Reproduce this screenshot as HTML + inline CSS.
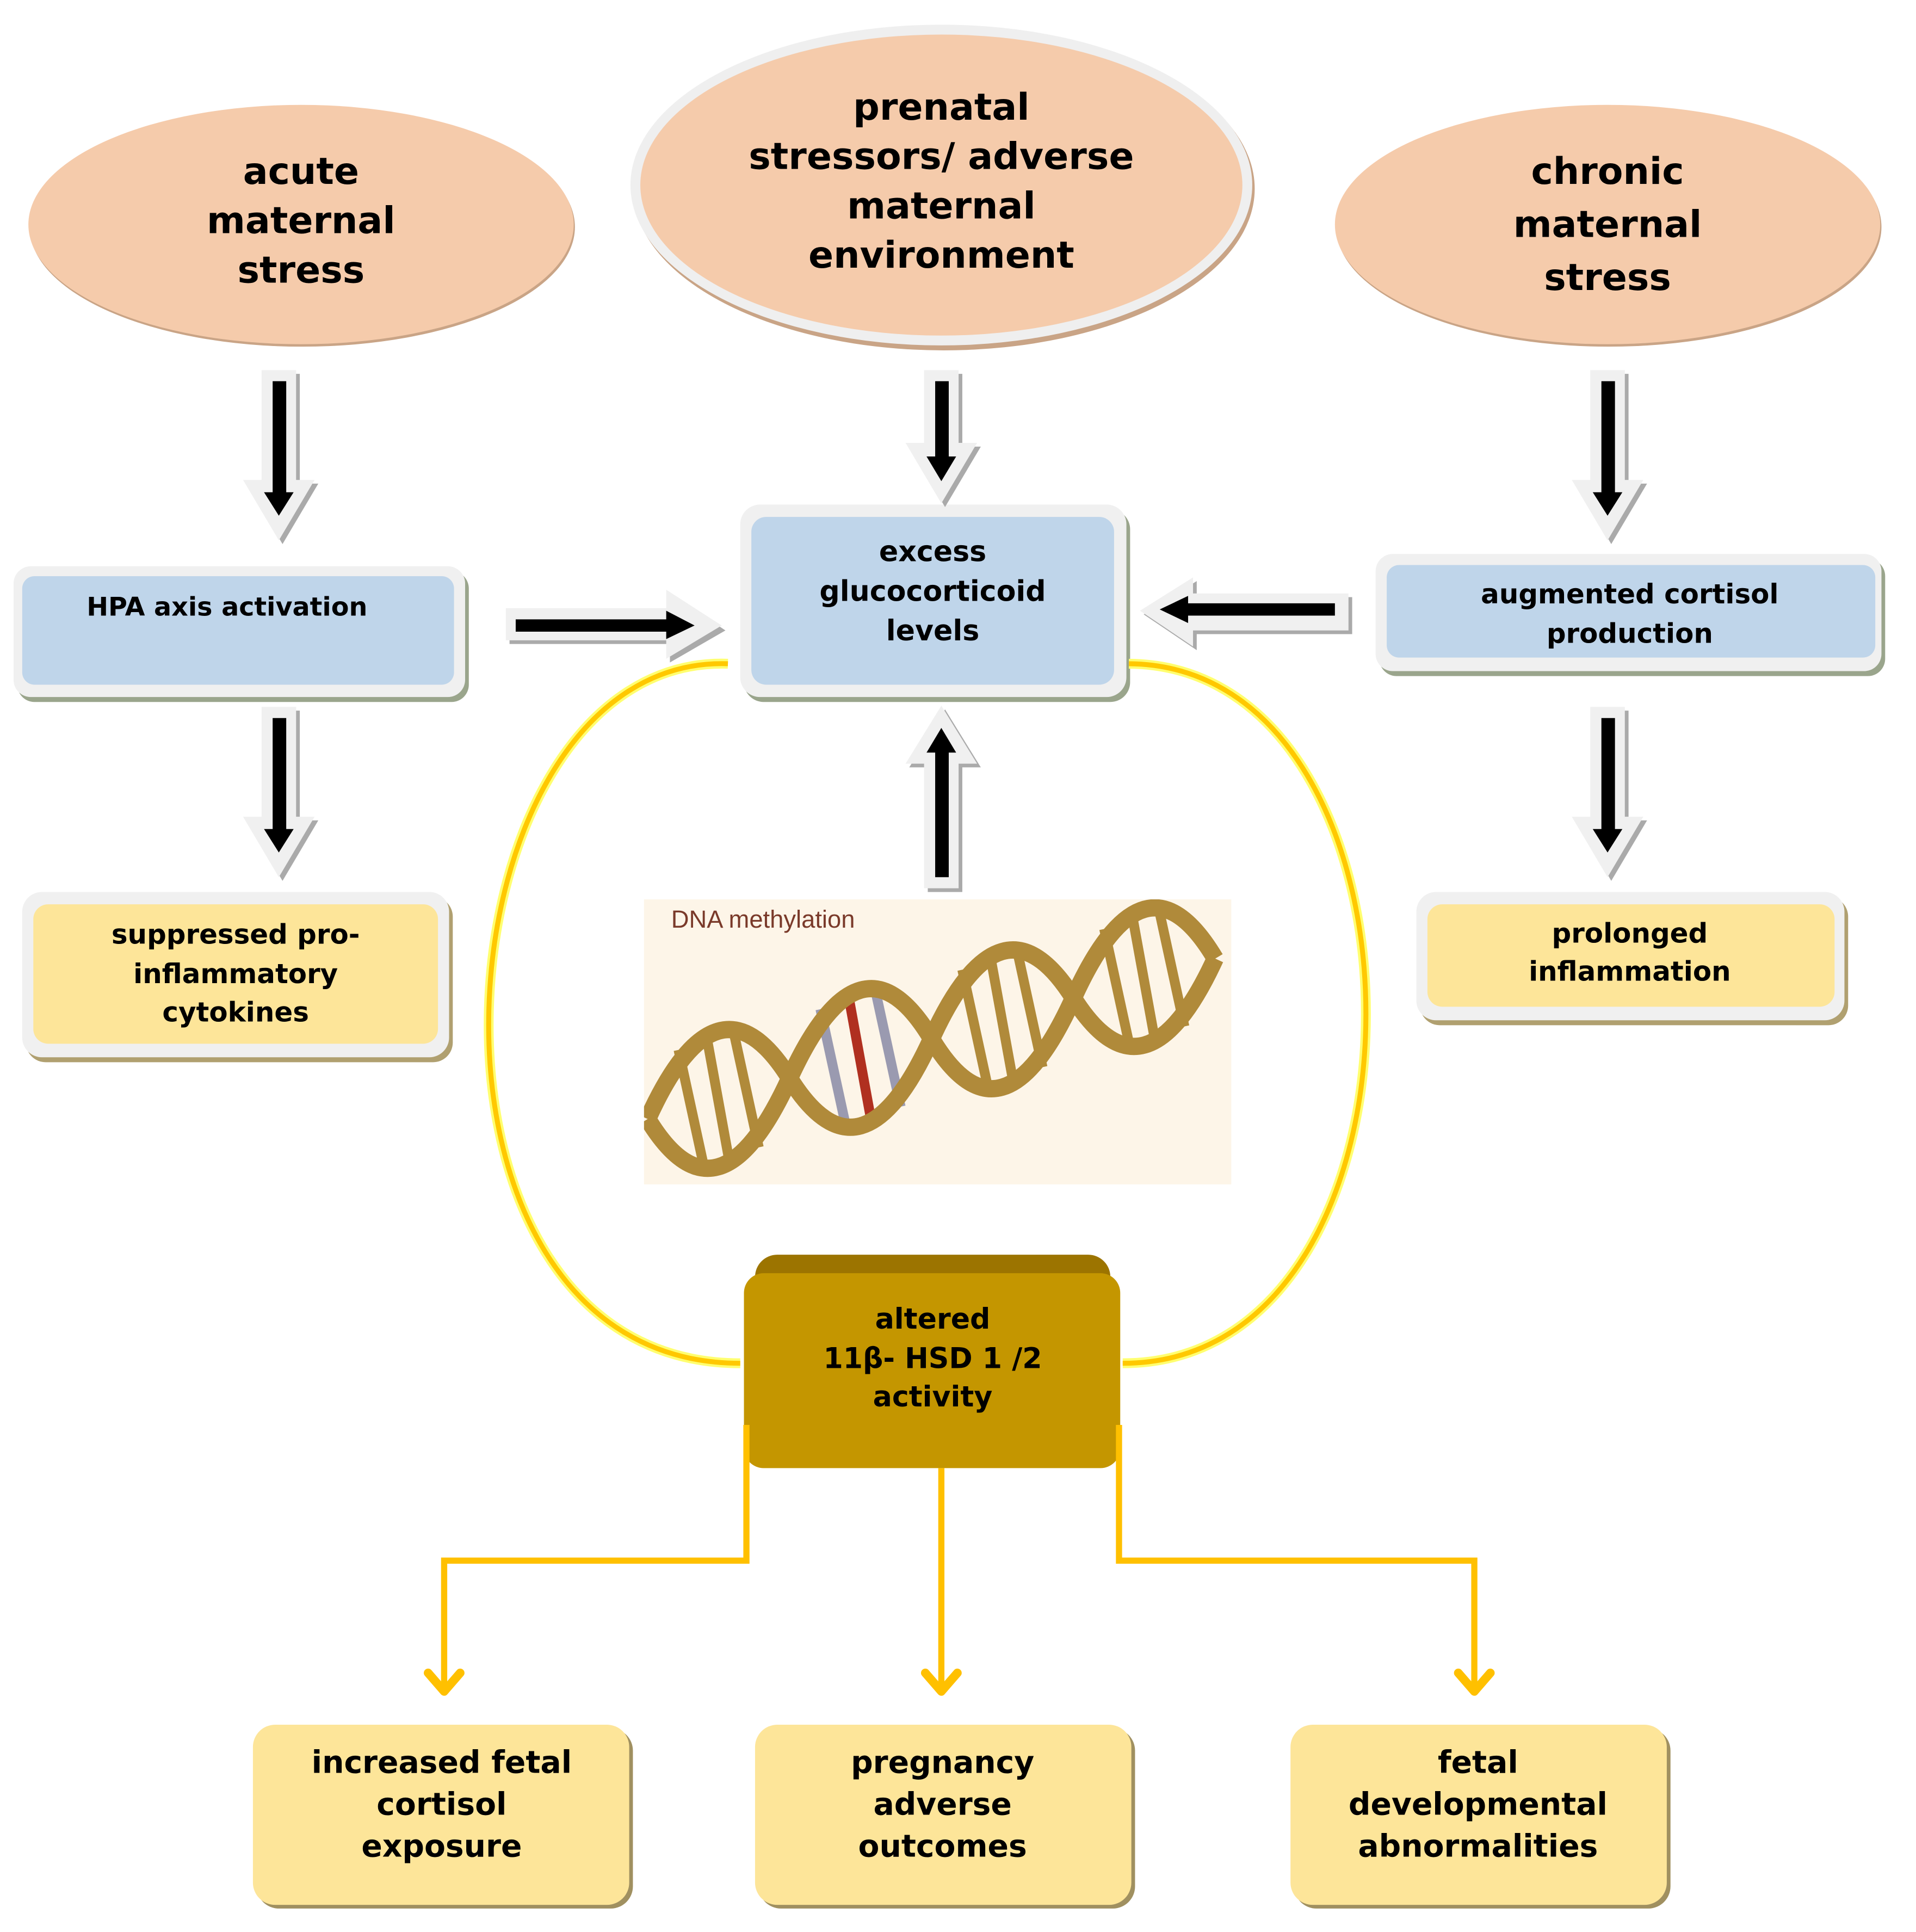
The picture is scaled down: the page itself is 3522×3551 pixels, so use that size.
<!DOCTYPE html>
<html><head><meta charset="utf-8"><style>
html,body{margin:0;padding:0;background:#fff}
svg{display:block}
text{font-family:"DejaVu Sans","Liberation Sans",sans-serif;font-weight:bold;fill:#000;text-anchor:middle}
</style></head><body>
<svg width="3522" height="3551" viewBox="0 0 1553 1566" preserveAspectRatio="none" xmlns="http://www.w3.org/2000/svg">
<defs><clipPath id="dc"><rect x="522" y="729" width="476" height="231"/></clipPath></defs>
<rect width="1553" height="1566" fill="#fff"/>
<!-- ellipses -->
<ellipse cx="245" cy="184" rx="221" ry="97" fill="#c9a486"/>
<ellipse cx="244" cy="182" rx="221" ry="97" fill="#f5cbab"/>
<ellipse cx="765" cy="153" rx="252" ry="131" fill="#c9a486"/>
<ellipse cx="763" cy="150" rx="252" ry="130" fill="#efefef"/>
<ellipse cx="763" cy="150" rx="244" ry="122" fill="#f5cbab"/>
<ellipse cx="1304" cy="184" rx="221" ry="97" fill="#c9a486"/>
<ellipse cx="1303" cy="182" rx="221" ry="97" fill="#f5cbab"/>
<g font-size="30">
<text x="244" y="149">acute</text><text x="244" y="189">maternal</text><text x="244" y="229">stress</text>
<text x="763" y="97">prenatal</text><text x="763" y="137">stressors/ adverse</text><text x="763" y="177">maternal</text><text x="763" y="217">environment</text>
<text x="1303" y="149">chronic</text><text x="1303" y="192">maternal</text><text x="1303" y="235">stress</text>
</g>
<!-- boxes -->
<g>
<rect x="14" y="463" width="366" height="106" rx="14" fill="#9aa58c"/>
<rect x="11" y="459" width="366" height="106" rx="14" fill="#f0f0f0"/>
<rect x="18" y="467" width="350" height="88" rx="10" fill="#bfd5ea"/>
<rect x="603" y="413" width="313" height="156" rx="16" fill="#9aa58c"/>
<rect x="600" y="409" width="313" height="156" rx="16" fill="#f0f0f0"/>
<rect x="609" y="419" width="294" height="136" rx="12" fill="#bfd5ea"/>
<rect x="1118" y="453" width="410" height="95" rx="14" fill="#9aa58c"/>
<rect x="1115" y="449" width="410" height="95" rx="14" fill="#f0f0f0"/>
<rect x="1124" y="458" width="396" height="75" rx="10" fill="#bfd5ea"/>
<rect x="21" y="727" width="346" height="134" rx="16" fill="#b0a070"/>
<rect x="18" y="723" width="346" height="134" rx="16" fill="#f0f0f0"/>
<rect x="27" y="733" width="328" height="113" rx="12" fill="#fde599"/>
<rect x="1151" y="727" width="347" height="104" rx="16" fill="#b0a070"/>
<rect x="1148" y="723" width="347" height="104" rx="16" fill="#f0f0f0"/>
<rect x="1157" y="733" width="330" height="83" rx="12" fill="#fde599"/>
</g>
<text x="184" y="499" font-size="21">HPA axis activation</text>
<g font-size="23"><text x="756" y="455">excess</text><text x="756" y="487">glucocorticoid</text><text x="756" y="519">levels</text></g>
<g font-size="22"><text x="1321" y="489">augmented cortisol</text><text x="1321" y="521">production</text></g>
<g font-size="22"><text x="191" y="765">suppressed pro-</text><text x="191" y="797">inflammatory</text><text x="191" y="828">cytokines</text></g>
<g font-size="22"><text x="1321" y="764">prolonged</text><text x="1321" y="795">inflammation</text></g>
<!-- block arrows -->
<g>
<polygon points="215,303 243,303 243,392 258,392 229,441 200,392 215,392" fill="#aaa"/>
<polygon points="212,300 240,300 240,389 255,389 226,438 197,389 212,389" fill="#f0f0f0"/>
<polygon points="221,309 232,309 232,399 238,399 226,418 214,399 221,399" fill="#000"/>

<polygon points="752,303 780,303 780,362 795,362 766,411 737,362 752,362" fill="#aaa"/>
<polygon points="749,300 777,300 777,359 792,359 763,408 734,359 749,359" fill="#f0f0f0"/>
<polygon points="758,309 769,309 769,370 775,370 763,390 751,370 758,370" fill="#000"/>

<polygon points="1292,303 1320,303 1320,392 1335,392 1306,441 1277,392 1292,392" fill="#aaa"/>
<polygon points="1289,300 1317,300 1317,389 1332,389 1303,438 1274,389 1289,389" fill="#f0f0f0"/>
<polygon points="1298,309 1309,309 1309,399 1315,399 1303,418 1291,399 1298,399" fill="#000"/>

<polygon points="215,576 243,576 243,665 258,665 229,714 200,665 215,665" fill="#aaa"/>
<polygon points="212,573 240,573 240,662 255,662 226,711 197,662 212,662" fill="#f0f0f0"/>
<polygon points="221,582 232,582 232,672 238,672 226,691 214,672 221,672" fill="#000"/>

<polygon points="1292,576 1320,576 1320,665 1335,665 1306,714 1277,665 1292,665" fill="#aaa"/>
<polygon points="1289,573 1317,573 1317,662 1332,662 1303,711 1274,662 1289,662" fill="#f0f0f0"/>
<polygon points="1298,582 1309,582 1309,672 1315,672 1303,691 1291,672 1298,672" fill="#000"/>

<polygon points="752,723 780,723 780,622 795,622 766,575 737,622 752,622" fill="#aaa"/>
<polygon points="749,720 777,720 777,619 792,619 763,572 734,619 749,619" fill="#f0f0f0"/>
<polygon points="758,711 769,711 769,610 775,610 763,590 751,610 758,610" fill="#000"/>

<polygon points="413,496 543,496 543,481 588,511 543,537 543,522 413,522" fill="#aaa"/>
<polygon points="410,493 540,493 540,478 585,507 540,534 540,519 410,519" fill="#f0f0f0"/>
<polygon points="418,502 540,502 540,495 563,507 540,518 540,512 418,512" fill="#000"/>

<polygon points="1096,484 970,484 970,471 927,498 970,527 970,514 1096,514" fill="#aaa"/>
<polygon points="1093,481 967,481 967,468 924,495 967,524 967,511 1093,511" fill="#f0f0f0"/>
<polygon points="1082,489 963,489 963,483 940,494 963,505 963,499 1082,499" fill="#000"/>
</g>
<!-- DNA -->
<rect x="522" y="729" width="476" height="231" fill="#fdf5e8"/>
<text x="544" y="752" style="text-anchor:start;fill:#7a3a2a;font-weight:normal;font-family:'Liberation Sans',sans-serif;font-size:20px">DNA methylation</text>
<g clip-path="url(#dc)">
<g transform="translate(0,12)">
<g stroke="#b08a3a" stroke-width="8" stroke-linecap="butt">
<line x1="550" y1="839" x2="570" y2="931"/><line x1="572" y1="824" x2="592" y2="934"/><line x1="595" y1="826" x2="615" y2="918"/>
<line x1="665" y1="806" x2="685" y2="898" stroke="#9a9ab0"/><line x1="687" y1="791" x2="707" y2="901" stroke="#b03020"/><line x1="710" y1="793" x2="730" y2="885" stroke="#9a9ab0"/>
<line x1="780" y1="774" x2="800" y2="866"/><line x1="802" y1="759" x2="822" y2="869"/><line x1="825" y1="761" x2="845" y2="853"/>
<line x1="895" y1="741" x2="915" y2="833"/><line x1="917" y1="726" x2="937" y2="836"/><line x1="940" y1="728" x2="960" y2="820"/>
</g>
<g fill="none" stroke="#b08a3a" stroke-width="14">
<path d="M525,895 Q582,989 640,862 T755,830 T870,797 T985,765"/>
<path d="M525,895 Q582,769 640,862 T755,830 T870,797 T985,765"/>
</g>
</g>
</g>
<!-- yellow loops -->
<g fill="none">
<path d="M590,538 C350,530 310,1105 600,1105" stroke="#ffff70" stroke-width="8"/>
<path d="M590,538 C350,530 310,1105 600,1105" stroke="#ffc800" stroke-width="4"/>
<path d="M915,538 C1170,540 1174,1105 910,1105" stroke="#ffff70" stroke-width="8"/>
<path d="M915,538 C1170,540 1174,1105 910,1105" stroke="#ffc800" stroke-width="4"/>
</g>
<!-- altered box -->
<rect x="612" y="1017" width="288" height="40" rx="18" fill="#9c7400"/>
<rect x="603" y="1032" width="305" height="158" rx="16" fill="#c49600"/>
<g font-size="23"><text x="756" y="1077">altered</text><text x="756" y="1109">11β- HSD 1 /2</text><text x="756" y="1140">activity</text></g>
<!-- connectors -->
<g fill="none" stroke="#ffc000" stroke-width="5">
<polyline points="605,1155 605,1265 360,1265 360,1370"/>
<line x1="763" y1="1190" x2="763" y2="1370"/>
<polyline points="907,1155 907,1265 1195,1265 1195,1370"/>
</g>
<g fill="none" stroke="#ffc000" stroke-width="7" stroke-linecap="round" stroke-linejoin="round">
<polyline points="347,1356 360,1371 373,1356"/>
<polyline points="750,1356 763,1371 776,1356"/>
<polyline points="1182,1356 1195,1371 1208,1356"/>
</g>
<!-- bottom boxes -->
<rect x="208" y="1401" width="305" height="146" rx="18" fill="#a09060"/>
<rect x="205" y="1398" width="305" height="146" rx="18" fill="#fde599"/>
<rect x="615" y="1401" width="305" height="146" rx="18" fill="#a09060"/>
<rect x="612" y="1398" width="305" height="146" rx="18" fill="#fde599"/>
<rect x="1049" y="1401" width="305" height="146" rx="18" fill="#a09060"/>
<rect x="1046" y="1398" width="305" height="146" rx="18" fill="#fde599"/>
<g font-size="25">
<text x="358" y="1437">increased fetal</text><text x="358" y="1471">cortisol</text><text x="358" y="1505">exposure</text>
<text x="764" y="1437">pregnancy</text><text x="764" y="1471">adverse</text><text x="764" y="1505">outcomes</text>
<text x="1198" y="1437">fetal</text><text x="1198" y="1471">developmental</text><text x="1198" y="1505">abnormalities</text>
</g>
</svg>
</body></html>
